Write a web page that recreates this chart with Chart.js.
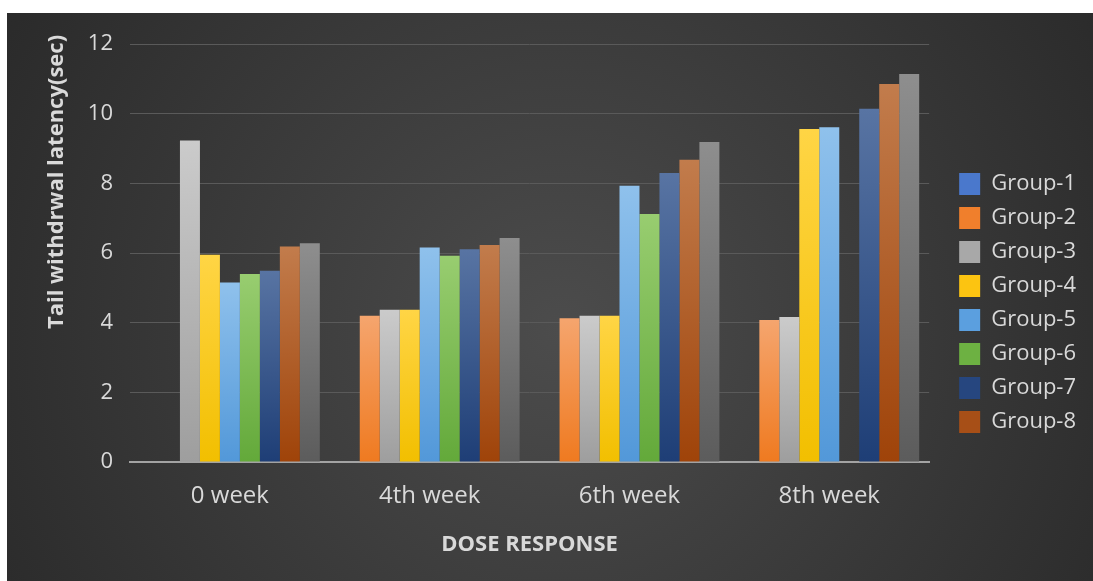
<!DOCTYPE html>
<html>
<head>
<meta charset="utf-8">
<script src="https://cdn.jsdelivr.net/npm/chart.js@4"></script>
<style>
  html, body { margin: 0; padding: 0; background: #ffffff; }
  #wrap { position: absolute; left: 7px; top: 13px; width: 1086px; height: 568px; }
</style>
</head>
<body>
<div id="wrap"><canvas id="c" width="1086" height="568"></canvas></div>
<script>
// ---- data ----
const categories = ['0 week', '4th week', '6th week', '8th week'];
const groupNames = ['Group-1', 'Group-2', 'Group-3', 'Group-4', 'Group-5', 'Group-6', 'Group-7', 'Group-8', 'Group-9'];
const group1 = [0, 0, 0, 0];
const group2 = [0, 4.20, 4.13, 4.08];
const group3 = [9.23, 4.37, 4.20, 4.16];
const group4 = [5.95, 4.37, 4.20, 9.56];
const group5 = [5.15, 6.16, 7.93, 9.61];
const group6 = [5.40, 5.92, 7.12, 0];
const group7 = [5.49, 6.11, 8.30, 10.14];
const group8 = [6.19, 6.23, 8.68, 10.85];
const group9 = [6.28, 6.43, 9.19, 11.14];
const seriesValues = [group1, group2, group3, group4, group5, group6, group7, group8, group9];
const yTickValues = [0, 2, 4, 6, 8, 10, 12];
const yTitle = 'Tail withdrwal latency(sec)';
const xTitle = 'DOSE RESPONSE';
const legendShown = 8; // the last grey series is not listed in the key

// ---- styles ----
const palette = [
  { top: '#7198da', base: '#4472c4' },
  { top: '#f5a56e', base: '#ef7a20' },
  { top: '#cbcbcb', base: '#9e9e9e' },
  { top: '#ffd545', base: '#f2bf00' },
  { top: '#8fc1ec', base: '#5298d9' },
  { top: '#98cd70', base: '#63a93a' },
  { top: '#5874a3', base: '#1e3e76' },
  { top: '#c27c4c', base: '#9f4309' },
  { top: '#8e8e8e', base: '#5c5c5c' }
];
const legendSwatch = ['#4a78cc', '#f07f2c', '#a8a8a8', '#fcc411', '#5b9fdf', '#6db142', '#26467f', '#a74f17'];
const textColor = '#d9d9d9';

function barFill(i) {
  return (ctx) => {
    const c = palette[i];
    const chart = ctx.chart;
    if (ctx.type !== 'data' || !chart.chartArea || !chart.scales.y) return c.base;
    const v = ctx.raw;
    if (!v) return c.base;
    const yS = chart.scales.y;
    const top = yS.getPixelForValue(v);
    const bottom = yS.getPixelForValue(0);
    if (!isFinite(top) || !isFinite(bottom) || bottom - top < 1) return c.base;
    const g = chart.ctx.createLinearGradient(0, top, 0, bottom);
    g.addColorStop(0, c.top);
    g.addColorStop(1, c.base);
    return g;
  };
}

// dark radial backdrop
const backdrop = {
  id: 'backdrop',
  beforeDraw(chart) {
    const { ctx, width, height } = chart;
    const cx = 553, cy = 317;
    const g = ctx.createRadialGradient(cx, cy, 0, cx, cy, 720);
    g.addColorStop(0, '#4c4c4c');
    g.addColorStop(1, '#262626');
    ctx.save();
    ctx.fillStyle = g;
    ctx.fillRect(0, 0, width, height);
    ctx.restore();
  }
};

// vertical axis title, placed toward the upper part of the axis
const yAxisTitle = {
  id: 'yAxisTitle',
  afterDraw(chart) {
    const ctx = chart.ctx;
    ctx.save();
    ctx.translate(50, 169);
    ctx.rotate(-Math.PI / 2);
    ctx.font = 'bold 22px "Open Sans"';
    ctx.fillStyle = textColor;
    ctx.textAlign = 'center';
    ctx.textBaseline = 'middle';
    ctx.fillText(yTitle, 0, 0);
    ctx.restore();
  }
};

const datasets = seriesValues.map((vals, i) => ({
  label: groupNames[i],
  data: vals,
  backgroundColor: barFill(i),
  borderWidth: 0,
  categoryPercentage: 0.9,
  barPercentage: 1.0
}));

new Chart(document.getElementById('c'), {
  type: 'bar',
  data: { labels: categories, datasets },
  plugins: [backdrop, yAxisTitle],
  options: {
    responsive: false,
    animation: false,
    layout: { padding: { top: 31, left: 0, right: 7, bottom: 19 } },
    scales: {
      x: {
        grid: { display: false, drawTicks: false },
        border: { display: true, color: '#a3a3a3', width: 2 },
        ticks: { color: textColor, font: { family: 'Open Sans', size: 24 }, padding: 20 },
        title: {
          display: true, text: xTitle, color: textColor,
          font: { family: 'Open Sans', size: 22, weight: 'bold' },
          padding: { top: 0, bottom: 4 }
        },
        afterFit: (s) => { s.height = 100; }
      },
      y: {
        min: 0, max: 12,
        grid: { color: '#5a5a5a', lineWidth: 1, drawTicks: false },
        border: { display: false },
        ticks: { color: textColor, font: { family: 'Open Sans', size: 22 }, padding: 17 },
        afterBuildTicks: (s) => { s.ticks = yTickValues.map(v => ({ value: v })); },
        afterFit: (s) => { s.width = 123; }
      },
      gap: {
        type: 'linear', position: 'right', display: true,
        grid: { display: false }, border: { display: false }, ticks: { display: false },
        afterFit: (s) => { s.width = 18; }
      }
    },
    plugins: {
      tooltip: { enabled: false },
      legend: {
        position: 'right',
        labels: {
          color: textColor,
          font: { family: 'Open Sans', size: 22 },
          boxWidth: 21, boxHeight: 22, padding: 12,
          generateLabels: () => groupNames.slice(0, legendShown).map((name, i) => ({
            text: name, fillStyle: legendSwatch[i], strokeStyle: legendSwatch[i],
            lineWidth: 0, fontColor: textColor, hidden: false, datasetIndex: i
          }))
        }
      }
    }
  }
});
</script>
</body>
</html>
